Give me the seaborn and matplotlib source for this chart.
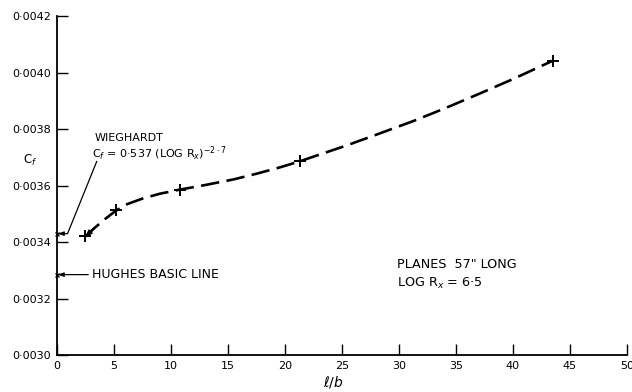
import seaborn as sns
import matplotlib.pyplot as plt

# measured points (l/b, Cf) for planes 57" long
test_x = [2.5, 5.2, 10.8, 21.3, 43.5]
test_cf = [0.003420, 0.003515, 0.003586, 0.003686, 0.004042]

# faired curve
curve_x = [2.5, 3.3, 4.2, 5.2, 6.2, 7.5, 9.0, 10.8, 13.0, 15.5, 17.5, 19.6, 21.3,
           25.4, 28.0, 31.3, 34.0, 37.1, 40.0, 43.5]
curve_cf = [0.003420, 0.003450, 0.003481, 0.003512, 0.003535, 0.003554, 0.003571, 0.003586,
            0.003602, 0.003622, 0.003642, 0.003665, 0.003686,
            0.003742, 0.003780, 0.003829, 0.003873, 0.003926, 0.003977, 0.004042]

# flat plate values marked on the Cf axis
wieghardt_cf = 0.003430
hughes_cf = 0.003285

x_ticks = [0, 5, 10, 15, 20, 25, 30, 35, 40, 45, 50]
y_ticks = [0.0030, 0.0032, 0.0034, 0.0036, 0.0038, 0.0040, 0.0042]
y_labels = ['0·0030', '0·0032', '0·0034', '0·0036', '0·0038', '0·0040', '0·0042']

sns.set_style('ticks', {'text.color': 'black', 'axes.labelcolor': 'black',
                        'xtick.color': 'black', 'ytick.color': 'black'})
plt.rcParams['font.family'] = ['DejaVu Sans']
plt.rcParams['mathtext.fontset'] = 'dejavusans'

fig = plt.figure(figsize=(6.32, 3.92), dpi=100)
ax = fig.add_axes([0.090, 0.094, 0.902, 0.865])

sns.lineplot(x=curve_x, y=curve_cf, ax=ax, color='black', linewidth=1.9,
             linestyle=(0, (7, 2.8)), sort=False)
sns.scatterplot(x=test_x, y=test_cf, ax=ax, marker='+', s=70, color='black',
                linewidth=1.4, zorder=5)

# arrow head at the start of the curve
ax.annotate('', xy=(curve_x[0], curve_cf[0]), xytext=(curve_x[1], curve_cf[1]),
            arrowprops=dict(arrowstyle='-|>,head_length=0.35,head_width=0.15', color='black',
                            lw=1.2, shrinkA=0, shrinkB=0))

# values on the axis
ax.plot([0, 0], [wieghardt_cf, hughes_cf], linestyle='none', marker='x', ms=3,
        color='black', mew=0.9, clip_on=False, zorder=6)

ax.text(3.3, 0.00377, 'WIEGHARDT', fontsize=8, va='center', ha='left')
ax.text(3.1, 0.003712, r'C$_f$ = 0·537 (LOG R$_x$)$^{-2\cdot7}$', fontsize=8, va='center', ha='left')
ax.annotate('', xy=(0.05, wieghardt_cf), xytext=(3.5, 0.003686),
            arrowprops=dict(arrowstyle='-|>,head_length=0.35,head_width=0.12', color='black', lw=0.9,
                            connectionstyle='angle,angleA=-112,angleB=180,rad=0',
                            shrinkA=0, shrinkB=0))

ax.text(3.1, hughes_cf, 'HUGHES BASIC LINE', fontsize=9, va='center', ha='left')
ax.annotate('', xy=(0.05, hughes_cf), xytext=(2.75, hughes_cf),
            arrowprops=dict(arrowstyle='-|>,head_length=0.35,head_width=0.12', color='black', lw=0.9,
                            shrinkA=0, shrinkB=0))

ax.text(29.8, 0.003322, 'PLANES  57" LONG', fontsize=9.2, va='center', ha='left')
ax.text(29.8, 0.003255, r'LOG R$_x$ = 6·5', fontsize=9.2, va='center', ha='left')

ax.set_xlim(0, 50)
ax.set_ylim(0.0030, 0.0042)
ax.set_xticks(x_ticks)
ax.set_xticklabels([str(t) for t in x_ticks])
ax.set_yticks(y_ticks)
ax.set_yticklabels(y_labels)
ax.tick_params(direction='in', length=8, width=1.0, labelsize=8, colors='black', pad=4)

ax.set_xlabel(r'$\ell/b$', fontsize=10, va='center')
ax.xaxis.set_label_coords(0.485, -0.078)
ax.set_ylabel(r'C$_f$', fontsize=8.5, rotation=0, va='center')
ax.yaxis.set_label_coords(-0.047, 0.575)

sns.despine(ax=ax)
for side in ['left', 'bottom']:
    ax.spines[side].set_linewidth(1.3)
    ax.spines[side].set_color('black')

fig.savefig('out.png', dpi=100)
